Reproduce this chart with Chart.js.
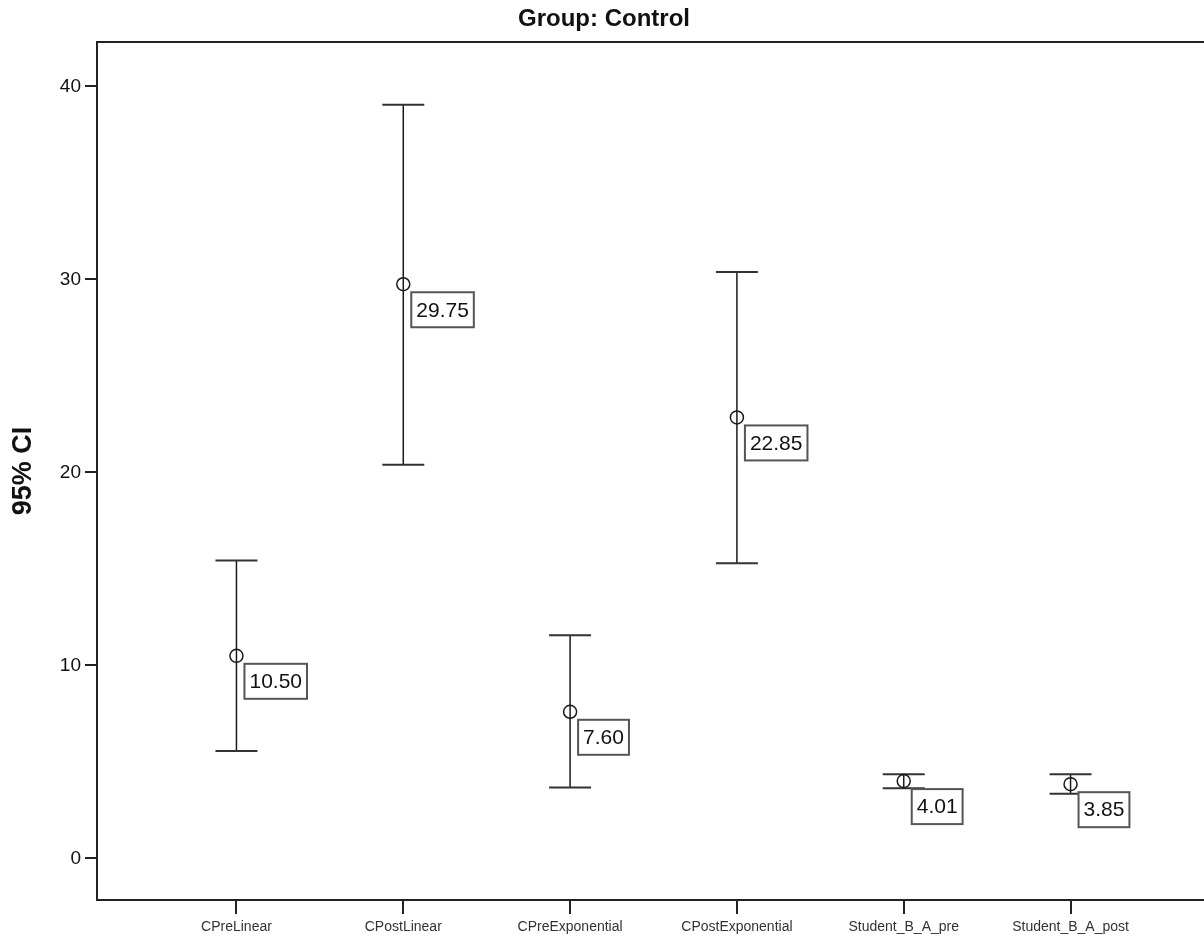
<!DOCTYPE html>
<html>
<head>
<meta charset="utf-8">
<title>Group: Control</title>
<script src="https://cdn.jsdelivr.net/npm/chart.js@4/dist/chart.umd.min.js"></script>
<style>
  html, body { margin: 0; padding: 0; background: #fff; overflow: hidden; }
  #wrap { width: 1212px; height: 936px; }
</style>
</head>
<body>
<div id="wrap"><canvas id="ciChart" width="1212" height="936"></canvas></div>
<script>
// Values
const CATEGORIES = ['CPreLinear', 'CPostLinear', 'CPreExponential', 'CPostExponential', 'Student_B_A_pre', 'Student_B_A_post'];
const MEANS = [10.50, 29.75, 7.60, 22.85, 4.01, 3.85];
const UPPER = [15.44, 39.05, 11.56, 30.38, 4.37, 4.37];
const LOWER = [5.57, 20.40, 3.68, 15.29, 3.64, 3.36];
const Y_TICKS = [0, 10, 20, 30, 40];

const FONT = '"Liberation Sans", Arial, Helvetica, sans-serif';

/**
 * Error bars, value boxes, title and frame
 */
const ciPlugin = {
  id: 'ciPlugin',
  beforeDatasetsDraw(chart) {
    const { ctx, scales: { x, y } } = chart;
    ctx.save();
    CATEGORIES.forEach((c, i) => {
      const px = x.getPixelForValue(i);
      const top = y.getPixelForValue(UPPER[i]);
      const bot = y.getPixelForValue(LOWER[i]);
      ctx.strokeStyle = '#1a1a1a';
      ctx.lineWidth = 1.5;
      ctx.beginPath();
      ctx.moveTo(px, top);
      ctx.lineTo(px, bot);
      ctx.stroke();
      // caps
      ctx.strokeStyle = '#333';
      ctx.lineWidth = 2;
      ctx.beginPath();
      ctx.moveTo(px - 21, top);
      ctx.lineTo(px + 21, top);
      ctx.moveTo(px - 21, bot);
      ctx.lineTo(px + 21, bot);
      ctx.stroke();
    });
    ctx.restore();
  },
  afterDatasetsDraw(chart) {
    const { ctx, scales: { x, y } } = chart;
    ctx.save();
    ctx.font = '21px ' + FONT;
    ctx.textBaseline = 'middle';
    ctx.textAlign = 'left';
    MEANS.forEach((m, i) => {
      const px = x.getPixelForValue(i);
      const py = y.getPixelForValue(m);
      const txt = m.toFixed(2);
      const w = ctx.measureText(txt).width + 10;
      const h = 35;
      const bx = px + 8, by = py + 8;
      ctx.fillStyle = '#fff';
      ctx.fillRect(bx, by, w, h);
      ctx.strokeStyle = '#555';
      ctx.lineWidth = 2;
      ctx.strokeRect(bx, by, w, h);
      ctx.fillStyle = '#111';
      ctx.fillText(txt, bx + 5, by + h / 2 + 1);
    });
    ctx.restore();
  },
  afterDraw(chart) {
    const { ctx, chartArea } = chart;
    ctx.save();
    // top frame line
    ctx.strokeStyle = '#222';
    ctx.lineWidth = 2;
    ctx.beginPath();
    ctx.moveTo(chartArea.left, chartArea.top);
    ctx.lineTo(chart.width, chartArea.top);
    ctx.stroke();
    // chart title
    ctx.fillStyle = '#111';
    ctx.font = 'bold 24px ' + FONT;
    ctx.textAlign = 'center';
    ctx.textBaseline = 'middle';
    ctx.fillText('Group: Control', 604, 19);
    // y axis title
    ctx.translate(24, 471);
    ctx.rotate(-Math.PI / 2);
    ctx.font = 'bold 27px ' + FONT;
    ctx.fillText('95% CI', 0, 0);
    ctx.restore();
  }
};

const chart = new Chart(document.getElementById('ciChart'), {
  type: 'scatter',
  data: {
    datasets: [{
      data: MEANS.map((m, i) => ({ x: i, y: m })),
      pointStyle: 'circle',
      pointRadius: 6.5,
      pointHoverRadius: 6.5,
      pointBorderWidth: 1.5,
      borderColor: '#1a1a1a',
      backgroundColor: 'rgba(0,0,0,0)',
      showLine: false
    }]
  },
  options: {
    responsive: false,
    animation: false,
    devicePixelRatio: 1,
    layout: { padding: { left: 0, top: 42, right: 3, bottom: 0 } },
    plugins: {
      legend: { display: false },
      tooltip: { enabled: false }
    },
    scales: {
      x: {
        type: 'linear',
        min: -0.836,
        max: 5.80,
        afterBuildTicks: s => { s.ticks = CATEGORIES.map((c, i) => ({ value: i })); },
        afterFit: s => { s.height = 36; },
        border: { display: true, color: '#222', width: 2 },
        grid: { drawOnChartArea: false, drawTicks: true, tickLength: 14, color: '#222', lineWidth: 2 },
        ticks: {
          autoSkip: false,
          maxRotation: 0,
          padding: 5,
          color: '#333',
          font: { family: FONT, size: 14 },
          callback: v => CATEGORIES[v]
        }
      },
      y: {
        min: -2.15,
        max: 42.3,
        afterBuildTicks: s => { s.ticks = Y_TICKS.map(v => ({ value: v })); },
        afterFit: s => { s.width = 97; },
        border: { display: true, color: '#222', width: 2 },
        grid: { drawOnChartArea: false, drawTicks: true, tickLength: 12, color: '#222', lineWidth: 2 },
        ticks: {
          padding: 4,
          color: '#111',
          font: { family: FONT, size: 19 }
        }
      }
    }
  },
  plugins: [ciPlugin]
});
</script>
</body>
</html>
